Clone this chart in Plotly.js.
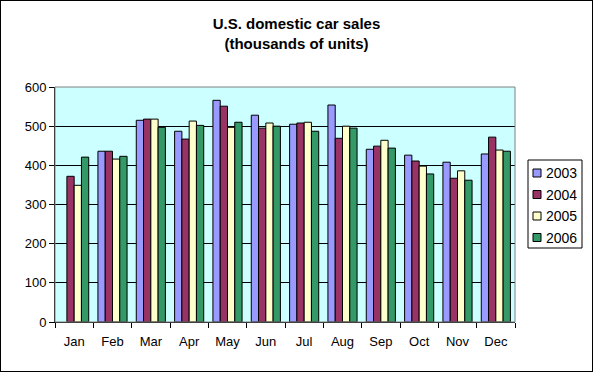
<!DOCTYPE html>
<html>
<head>
<meta charset="utf-8">
<script src="https://cdn.plot.ly/plotly-3.0.1.min.js"></script>
<style>
html,body{margin:0;padding:0;background:#fff;}
#frame{position:absolute;left:0;top:0;width:591px;height:370px;border:1px solid #000;pointer-events:none;z-index:10;}
</style>
</head>
<body>
<div id="chart" style="width:593px;height:372px;"></div>
<div id="frame"></div>
<script>
var months = ["Jan","Feb","Mar","Apr","May","Jun","Jul","Aug","Sep","Oct","Nov","Dec"];
var years = ["2003","2004","2005","2006"];
var sales2003 = [null, 436, 515, 487, 566, 528, 505, 554, 441, 426, 408, 429];
var sales2004 = [372, 436, 518, 467, 551, 495, 508, 469, 449, 411, 367, 472];
var sales2005 = [349, 416, 518, 513, 497, 508, 510, 500, 464, 398, 386, 439];
var sales2006 = [421, 423, 497, 502, 510, 500, 487, 495, 444, 378, 362, 436];
var colors = ["#9999FF", "#993366", "#FFFFCC", "#339966"];
var series = [sales2003, sales2004, sales2005, sales2006];

var traces = series.map(function(s, i){
  return {
    type: "bar",
    name: years[i],
    x: months,
    y: s,
    showlegend: false,
    marker: {color: colors[i], line: {color: "#000", width: 1}}
  };
});

// plot-area geometry (pixels) used to place the legend box in paper coords
var W = 593, H = 372, ML = 55, MR = 78, MT = 87, MB = 50;
var PW = W - ML - MR, PH = H - MT - MB;
function px(x){ return (x - ML) / PW; }
function py(y){ return (H - MB - y) / PH; }

var shapes = [
  {type: "rect", xref: "paper", yref: "paper", x0: 0, x1: 1, y0: 0, y1: 1,
   line: {color: "#808080", width: 1}, layer: "above"},
  {type: "rect", xref: "paper", yref: "paper", x0: px(528), x1: px(582), y0: py(248), y1: py(160),
   line: {color: "#000", width: 1}, fillcolor: "#fff", layer: "above"}
];
var annotations = [];
var rowY = [173, 194.5, 216, 237.5];
years.forEach(function(yr, i){
  shapes.push({type: "rect", xref: "paper", yref: "paper",
    x0: px(533), x1: px(541), y0: py(rowY[i] + 4), y1: py(rowY[i] - 4),
    fillcolor: colors[i], line: {color: "#000", width: 1}, layer: "above"});
  annotations.push({xref: "paper", yref: "paper", x: px(544), y: py(rowY[i]),
    xanchor: "left", yanchor: "middle", text: yr, showarrow: false,
    font: {size: 14}});
});

var layout = {
  width: W, height: H,
  margin: {l: ML, r: MR, t: MT, b: MB, autoexpand: false},
  paper_bgcolor: "#fff",
  plot_bgcolor: "#CCFFFF",
  font: {family: "Liberation Sans, Arial, sans-serif", size: 13, color: "#000"},
  title: {
    text: "<b>U.S. domestic car sales</b><br><b>(thousands of units)</b>",
    x: 0.5, xanchor: "center", y: 1 - 29 / H, yanchor: "middle",
    font: {size: 15}
  },
  barmode: "group",
  bargap: 0.24,
  bargroupgap: 0,
  xaxis: {
    type: "category",
    showline: true, linecolor: "#000", linewidth: 1,
    ticks: "outside", tickson: "boundaries", ticklen: 5, tickcolor: "#000",
    ticklabelstandoff: 7,
    showgrid: false,
    automargin: false
  },
  yaxis: {
    range: [0, 600],
    dtick: 100,
    showline: true, linecolor: "#000", linewidth: 1,
    ticks: "outside", ticklen: 5, tickcolor: "#000",
    showgrid: true, gridcolor: "#000", gridwidth: 1,
    zeroline: false,
    automargin: false
  },
  shapes: shapes,
  annotations: annotations,
  showlegend: false
};

Plotly.newPlot("chart", traces, layout, {displayModeBar: false, staticPlot: true});
</script>
</body>
</html>
